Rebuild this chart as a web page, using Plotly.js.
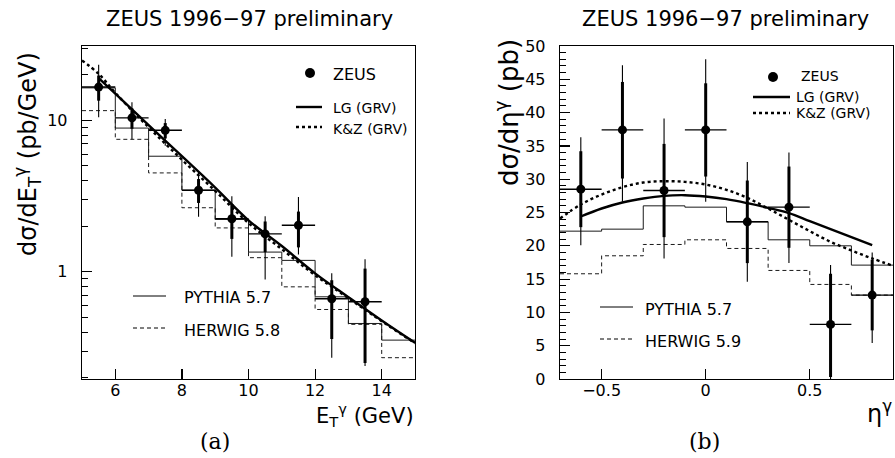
<!DOCTYPE html>
<html>
<head>
<meta charset="utf-8">
<script src="https://cdn.plot.ly/plotly-3.0.1.min.js"></script>
<style>
  html, body { margin: 0; padding: 0; background: #fff; }
  #chart { width: 895px; height: 458px; }
</style>
</head>
<body>
<div id="chart"></div>
<script>
// ---------- (a) dσ/dE_T^γ ----------
const etPointX   = [5.5, 6.5, 7.5, 8.5, 9.5, 10.5, 11.5, 12.5, 13.5];
const etPointY   = [16.6, 10.4, 8.6, 3.46, 2.24, 1.78, 2.03, 0.664, 0.634];
const etStatHi   = [19.8, 12.0, 9.6, 4.1, 2.8, 2.15, 2.5, 0.88, 1.05];
const etStatLo   = [13.5, 8.8, 7.6, 2.85, 1.65, 1.35, 1.45, 0.36, 0.25];
const etTotHi    = [23.3, 13.2, 10.2, 4.6, 3.15, 2.33, 3.12, 0.98, 1.21];
const etTotLo    = [10.5, 7.5, 6.8, 2.31, 1.26, 0.89, 1.30, 0.271, 0.239];
const etHalfBin  = 0.5;

const etEdges    = [5, 6, 7, 8, 9, 10, 11, 12, 13, 14, 15];
const etPythia   = [16.4, 8.9, 5.8, 3.46, 2.22, 1.35, 1.19, 0.684, 0.456, 0.354];
const etHerwig   = [11.6, 7.5, 4.5, 2.65, 1.95, 1.24, 0.796, 0.564, 0.45, 0.271];

const etLGX      = [5.5, 6, 7, 8, 9, 10, 11, 12, 13, 14, 15];
const etLGY      = [19.0, 15.0, 9.3, 5.8, 3.6, 2.19, 1.48, 0.977, 0.68, 0.477, 0.340];
const etKZX      = [5, 5.5, 6, 7, 8, 9, 10, 11, 12, 13, 14, 15];
const etKZY      = [24.9, 20.3, 15.2, 9.0, 5.5, 3.42, 2.1, 1.41, 0.95, 0.67, 0.472, 0.338];

const etTickVals = [6, 8, 10, 12, 14];
const etYTicks   = [1, 10];
const etYMinor   = [0.2, 0.3, 0.4, 0.5, 0.6, 0.7, 0.8, 0.9, 2, 3, 4, 5, 6, 7, 8, 9, 20, 30];

// ---------- (b) dσ/dη^γ ----------
const etaPointX  = [-0.6, -0.4, -0.2, 0, 0.2, 0.4, 0.6, 0.8];
const etaPointY  = [28.5, 37.4, 28.3, 37.4, 23.6, 25.8, 8.2, 12.6];
const etaStatHi  = [34.2, 44.6, 35.3, 44.4, 29.8, 31.9, 15.8, 17.9];
const etaStatLo  = [22.8, 30.1, 21.3, 30.4, 17.4, 19.7, 0.3, 7.3];
const etaTotHi   = [36.3, 47.1, 39.1, 48.0, 32.6, 34.0, 17.1, 19.0];
const etaTotLo   = [20.1, 26.6, 18.1, 26.6, 14.6, 17.4, 0, 5.4];
const etaHalfBin = 0.1;

const etaEdges   = [-0.7, -0.5, -0.3, -0.1, 0.1, 0.3, 0.5, 0.7, 0.9];
const etaPythia  = [22.2, 22.5, 26.0, 25.8, 23.6, 20.9, 20.0, 17.1];
const etaHerwig  = [15.8, 18.5, 20.2, 20.9, 19.6, 16.3, 14.2, 12.6];

const etaLGX     = [-0.6, -0.5, -0.4, -0.3, -0.2, -0.1, 0, 0.1, 0.2, 0.3, 0.4, 0.5, 0.6, 0.7, 0.8];
const etaLGY     = [24.4, 25.6, 26.5, 27.1, 27.5, 27.6, 27.4, 27.0, 26.4, 25.7, 24.9, 23.7, 22.5, 21.3, 20.1];
const etaKZX     = [-0.7, -0.6, -0.5, -0.4, -0.3, -0.2, -0.1, 0, 0.1, 0.2, 0.3, 0.4, 0.5, 0.6, 0.7, 0.8, 0.9];
const etaKZY     = [24.1, 26.2, 27.7, 28.8, 29.5, 29.7, 29.6, 29.2, 28.4, 27.2, 25.6, 23.9, 22.2, 20.6, 19.3, 18.1, 17.0];

const etaTickVals = [-0.5, 0, 0.5];

// ---------- helpers ----------
const W = 895, H = 458;
const px = v => v / W;
const py = v => 1 - v / H;
const FONT = 'DejaVu Sans, Verdana, sans-serif';
const SERIF = 'DejaVu Serif, Liberation Serif, serif';

function diff(a, b) { return a.map((v, i) => v - b[i]); }

function step(edges, vals, xa, ya, dash) {
  return {
    x: edges, y: vals.concat([vals[vals.length - 1]]),
    xaxis: xa, yaxis: ya, mode: 'lines', hoverinfo: 'skip',
    line: { shape: 'hv', color: '#1a1a1a', width: 1, dash: dash }
  };
}

function curve(x, y, xa, ya, dash) {
  return {
    x: x, y: y, xaxis: xa, yaxis: ya, mode: 'lines', hoverinfo: 'skip',
    line: { shape: 'spline', smoothing: 1, color: '#000', width: 2.4, dash: dash }
  };
}

function points(x, y, statHi, statLo, totHi, totLo, half, xa, ya) {
  const total = {
    x: x, y: y, xaxis: xa, yaxis: ya, mode: 'markers',
    marker: { size: 1, opacity: 0 }, hoverinfo: 'skip',
    error_y: { type: 'data', symmetric: false, array: diff(totHi, y), arrayminus: diff(y, totLo),
               width: 0, thickness: 1.1, color: '#000' }
  };
  const stat = {
    x: x, y: y, xaxis: xa, yaxis: ya, mode: 'markers',
    marker: { size: 9, color: '#000' },
    error_y: { type: 'data', symmetric: false, array: diff(statHi, y), arrayminus: diff(y, statLo),
               width: 0, thickness: 3, color: '#000' },
    error_x: { type: 'constant', value: half, width: 0, thickness: 1.4, color: '#000' }
  };
  return [total, stat];
}

const traces = [
  step(etEdges, etPythia, 'x', 'y', 'solid'),
  step(etEdges, etHerwig, 'x', 'y', '4px,3px'),
  curve(etLGX, etLGY, 'x', 'y', 'solid'),
  curve(etKZX, etKZY, 'x', 'y', '3px,3px'),
  ...points(etPointX, etPointY, etStatHi, etStatLo, etTotHi, etTotLo, etHalfBin, 'x', 'y'),

  step(etaEdges, etaPythia, 'x2', 'y2', 'solid'),
  step(etaEdges, etaHerwig, 'x2', 'y2', '4px,3px'),
  curve(etaLGX, etaLGY, 'x2', 'y2', 'solid'),
  curve(etaKZX, etaKZY, 'x2', 'y2', '3px,3px'),
  ...points(etaPointX, etaPointY, etaStatHi, etaStatLo, etaTotHi, etaTotLo, etaHalfBin, 'x2', 'y2')
];
traces.forEach(t => { t.showlegend = false; });

const axisCommon = {
  showgrid: false, zeroline: false, showline: true, mirror: true,
  linecolor: '#000', linewidth: 1.3,
  ticks: 'inside', ticklen: 10, tickwidth: 1.2, tickcolor: '#000',
  tickfont: { family: FONT, size: 16, color: '#000' }
};
const plotTop = py(46), plotBot = py(379);

// legend keys and texts
const shapes = [];
const annotations = [];
function keyLine(x0, x1, y, width, dash) {
  shapes.push({ type: 'line', xref: 'paper', yref: 'paper', x0: px(x0), x1: px(x1), y0: py(y), y1: py(y),
                line: { color: '#000', width: width, dash: dash } });
}
function keyDot(x, y, d) {
  shapes.push({ type: 'circle', xref: 'paper', yref: 'paper', xsizemode: 'pixel', ysizemode: 'pixel',
                xanchor: px(x), yanchor: py(y), x0: -d / 2, x1: d / 2, y0: -d / 2, y1: d / 2,
                fillcolor: '#000', line: { width: 0 } });
}
function text(t, x, y, size, opts) {
  annotations.push(Object.assign({
    text: t, xref: 'paper', yref: 'paper', x: px(x), y: py(y), showarrow: false,
    xanchor: 'left', yanchor: 'middle', font: { family: FONT, size: size, color: '#000' }
  }, opts || {}));
}

// (a) keys
keyDot(310, 73, 10);            text('ZEUS', 331, 74, 16);
keyLine(296, 322, 107, 2.4, 'solid');   text('LG (GRV)', 331, 108, 14);
keyLine(296, 322, 127, 2.4, '3px,3px'); text('K&amp;Z (GRV)', 331, 129, 14);
keyLine(133, 166, 296, 1, 'solid');     text('PYTHIA 5.7', 182, 297, 16);
keyLine(133, 166, 328, 1, '4px,3px');   text('HERWIG 5.8', 182, 330, 16);

// (b) keys
keyDot(773, 77, 10);            text('ZEUS', 799, 76, 14);
keyLine(753, 790, 97, 2.4, 'solid');    text('LG (GRV)', 794, 97, 14);
keyLine(753, 790, 113, 2.4, '3px,3px'); text('K&amp;Z (GRV)', 794, 113, 14);
keyLine(600, 633, 307, 1, 'solid');     text('PYTHIA 5.7', 643, 309, 16);
keyLine(600, 633, 339, 1, '4px,3px');   text('HERWIG 5.9', 643, 341, 16);

// panel titles
text('ZEUS 1996\u221297 preliminary', 249, 19, 21, { xanchor: 'center' });
text('ZEUS 1996\u221297 preliminary', 725, 19, 21, { xanchor: 'center' });

// axis titles
text('E<sub>T</sub><sup>γ</sup> (GeV)', 416, 415, 21, { xanchor: 'right' });
text('η<sup>γ</sup>', 894, 412, 24, { xanchor: 'right' });
text('dσ/dE<sub>T</sub><sup>γ</sup> (pb/GeV)', 27, 154, 24, { xanchor: 'center', textangle: -90 });
text('dσ/dη<sup>γ</sup> (pb)', 507, 113, 26, { xanchor: 'center', textangle: -90 });

// captions
text('(a)', 215, 441, 22, { xanchor: 'center', font: { family: SERIF, size: 22, color: '#000' } });
text('(b)', 704, 441, 22, { xanchor: 'center', font: { family: SERIF, size: 22, color: '#000' } });

const layout = {
  width: W, height: H, autosize: false,
  margin: { l: 0, r: 0, t: 0, b: 0, pad: 0 },
  paper_bgcolor: '#fff', plot_bgcolor: '#fff',
  showlegend: false,
  xaxis: Object.assign({}, axisCommon, {
    domain: [px(82), px(415)], anchor: 'y', range: [5, 15],
    tickmode: 'array', tickvals: etTickVals, ticklabelstandoff: -4
  }),
  yaxis: Object.assign({}, axisCommon, {
    domain: [plotBot, plotTop], anchor: 'x', type: 'log',
    range: [Math.log10(0.196), Math.log10(31)],
    tickmode: 'array', tickvals: etYTicks, ticktext: etYTicks.map(String), ticklabelstandoff: 10,
    minor: { tickmode: 'array', tickvals: etYMinor, ticks: 'inside', ticklen: 6, tickwidth: 1, tickcolor: '#000' }
  }),
  xaxis2: Object.assign({}, axisCommon, {
    domain: [px(560), px(893)], anchor: 'y2', range: [-0.7, 0.9],
    tickmode: 'array', tickvals: etaTickVals, ticklabelstandoff: -4
  }),
  yaxis2: Object.assign({}, axisCommon, {
    domain: [plotBot, plotTop], anchor: 'x2', range: [0, 50],
    tickmode: 'linear', tick0: 0, dtick: 5, ticklabelstandoff: 10,
    minor: { tickmode: 'linear', tick0: 0, dtick: 1, ticks: 'inside', ticklen: 6, tickwidth: 1, tickcolor: '#000' }
  }),
  shapes: shapes,
  annotations: annotations
};

Plotly.newPlot('chart', traces, layout, { staticPlot: true, displayModeBar: false });
</script>
</body>
</html>
